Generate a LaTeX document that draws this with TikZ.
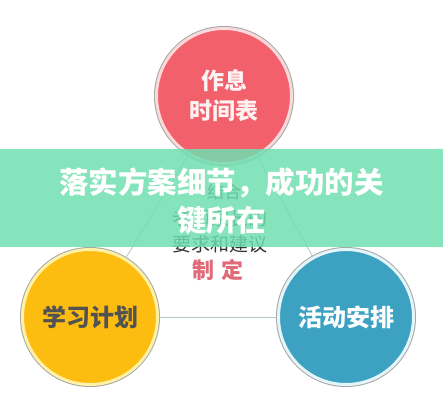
\documentclass[tikz,border=0pt]{standalone}
\usepackage{fontspec}
\newfontfamily\cjk{Noto Sans CJK SC}
\usepackage{tikz}
\usetikzlibrary{calc}

\definecolor{redfill}{HTML}{F2606C}
\definecolor{redring}{HTML}{FBD8DA}
\definecolor{yellowfill}{HTML}{FDBD10}
\definecolor{yellowring}{HTML}{FFF2A6}
\definecolor{bluefill}{HTML}{3DA2C2}
\definecolor{bluering}{HTML}{E4F6FA}
\definecolor{rimgray}{HTML}{A6A6A6}
\definecolor{linkgray}{HTML}{B3C6CB}
\definecolor{bannergreen}{HTML}{6EDFB0}
\definecolor{plantext}{HTML}{333333}
\definecolor{planred}{HTML}{E06A78}

\begin{document}
\begin{tikzpicture}[x=1pt,y=-1pt,
	ball/.style={circle,minimum size=135pt,inner sep=0pt,line width=3pt,
		preaction={draw=rimgray,line width=5pt},font=\cjk\bfseries},
	link/.style={draw=linkgray,line width=0.8pt},
	plan/.style={font=\cjk\fontsize{19}{19}\selectfont,text=plantext,inner sep=0pt}]
		\fill[white] (0,0) rectangle (443,400);
		\useasboundingbox (0,0) rectangle (443,400);
		
		\node[ball,fill=redfill,draw=redring,text=white!92!redfill,align=center,
			font=\cjk\bfseries\fontsize{23}{30}\selectfont] (rest) at (224,96) {作息\\时间表};
		
		\node[ball,fill=yellowfill,draw=yellowring,text=black!68,
			font=\cjk\bfseries\fontsize{24}{24}\selectfont] (study) at (90,317) {学习计划};
		\node[ball,fill=bluefill,draw=bluering,text=white,
			font=\cjk\bfseries\fontsize{24}{24}\selectfont] (play) at (346,317) {活动安排};
		
		\draw[link] (rest) -- (study);
		\draw[link] (rest) -- (play);
		\draw[link] (study) -- (play);
		
		% middle of the triangle
		\node[plan,font=\cjk\fontsize{17}{17}\selectfont] (with) at (224,192) {结合};
		\node[plan] (whose) at (220,218) {老师家长的};
		\node[plan] (asks) at (220,244) {要求和建议};
		\node[plan,text=planred,font=\cjk\bfseries\fontsize{22}{22}\selectfont] (made) at (218,270) {制\,\,定};
		
		% title band
		\fill[bannergreen,opacity=0.84] (0,149) rectangle (443,247);
		\node[text=white,align=center,inner sep=0pt,
			font=\cjk\bfseries\fontsize{29.5}{38}\selectfont] (title) at (221.5,201) {落实方案细节，成功的关\\键所在};
	\end{tikzpicture}
\end{document}
